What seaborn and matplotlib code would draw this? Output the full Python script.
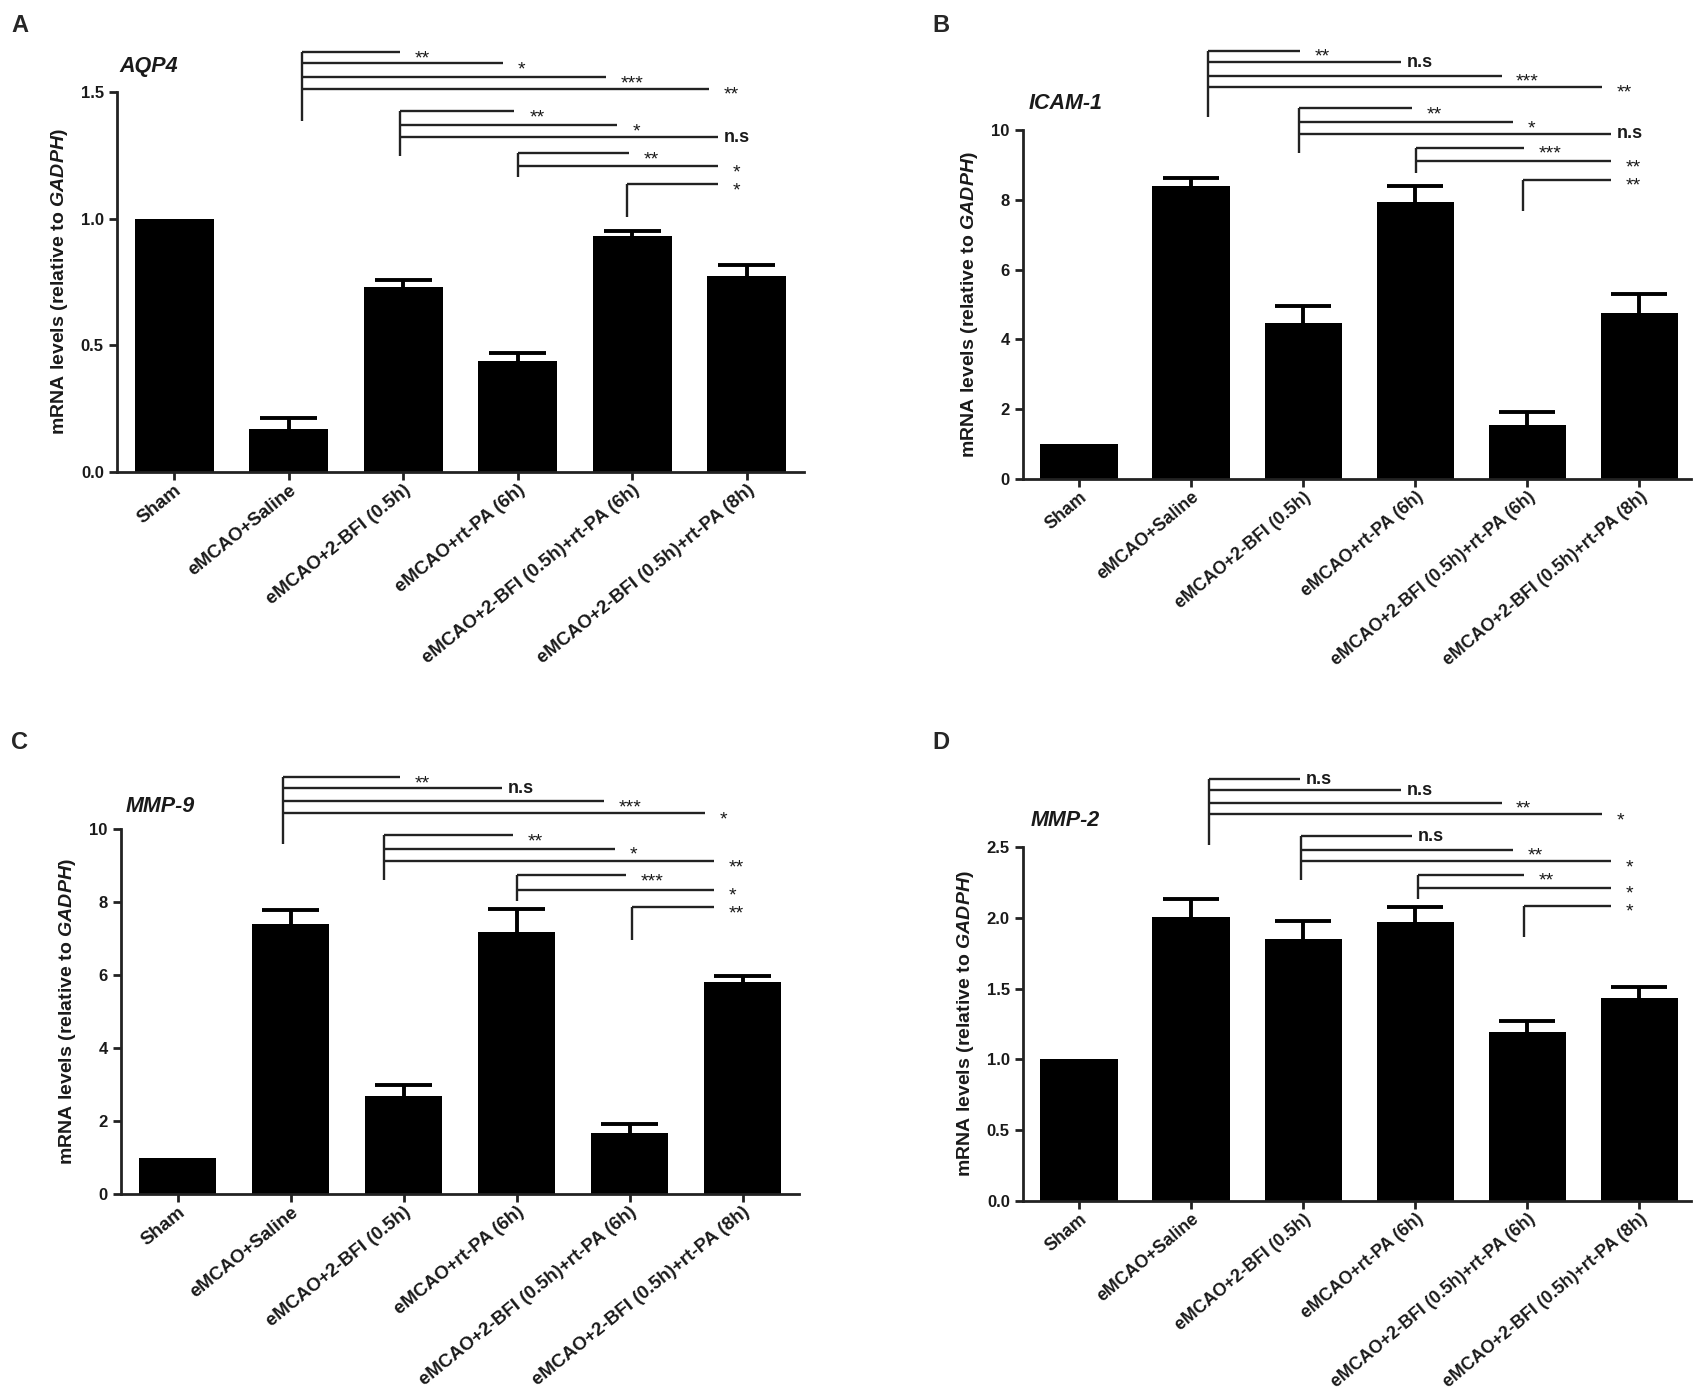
import numpy as np
import pandas as pd
import seaborn as sns
import matplotlib.pyplot as plt
from matplotlib import transforms

# ---------------- data ----------------
groups = ["Sham", "eMCAO+Saline", "eMCAO+2-BFI (0.5h)", "eMCAO+rt-PA (6h)",
          "eMCAO+2-BFI (0.5h)+rt-PA (6h)", "eMCAO+2-BFI (0.5h)+rt-PA (8h)"]

aqp4_mean = [1.00, 0.17, 0.73, 0.44, 0.93, 0.775]
aqp4_err = [0.0, 0.045, 0.026, 0.028, 0.022, 0.041]

icam1_mean = [1.0, 8.40, 4.48, 7.95, 1.55, 4.75]
icam1_err = [0.0, 0.22, 0.48, 0.45, 0.36, 0.55]

mmp9_mean = [1.0, 7.41, 2.68, 7.19, 1.67, 5.80]
mmp9_err = [0.0, 0.38, 0.30, 0.62, 0.26, 0.16]

mmp2_mean = [1.0, 2.005, 1.853, 1.968, 1.195, 1.435]
mmp2_err = [0.0, 0.13, 0.123, 0.109, 0.075, 0.077]

# significance labels: group k compares bar (k+1) with each later bar
aqp4_sig = [["**", "*", "***", "**"], ["**", "*", "n.s"], ["**", "*"], ["*"]]
icam1_sig = [["**", "n.s", "***", "**"], ["**", "*", "n.s"], ["***", "**"], ["**"]]
mmp9_sig = [["**", "n.s", "***", "*"], ["**", "*", "**"], ["***", "*"], ["**"]]
mmp2_sig = [["n.s", "n.s", "**", "*"], ["n.s", "**", "*"], ["**", "*"], ["*"]]

yticks_a = [0.0, 0.5, 1.0, 1.5]
yticks_b = [0, 2, 4, 6, 8, 10]
yticks_c = [0, 2, 4, 6, 8, 10]
yticks_d = [0.0, 0.5, 1.0, 1.5, 2.0, 2.5]

# ---------------- layout ----------------
W, H = 1695, 1393
panels = [
    dict(letter="A", gene="AQP4", mean=aqp4_mean, err=aqp4_err, sig=aqp4_sig,
         yticks=yticks_a, fmt="{:.1f}", rect=(117, 92, 804, 472), xmax=5.5,
         letter_xy=(11, 14), title_y=1.066, title_x=0.004, xfs=13.5, rot=39,
         lines=[[1.105, 1.076, 1.039, 1.009], [0.949, 0.912, 0.881], [0.839, 0.805], [0.757]],
         bottoms=[0.925, 0.831, 0.776, 0.671], xoff=[0.12, -0.03, 0.0, -0.05]),
    dict(letter="B", gene="ICAM-1", mean=icam1_mean, err=icam1_err, sig=icam1_sig,
         yticks=yticks_b, fmt="{:d}", rect=(1023, 130, 1691, 479), xmax=5.46,
         letter_xy=(932, 14), title_y=1.077, title_x=0.009, xfs=12.8, rot=40,
         lines=[[1.226, 1.194, 1.155, 1.124], [1.062, 1.022, 0.989], [0.948, 0.910], [0.857]],
         bottoms=[1.038, 0.935, 0.878, 0.768], xoff=[0.15, -0.04, 0.01, -0.04]),
    dict(letter="C", gene="MMP-9", mean=mmp9_mean, err=mmp9_err, sig=mmp9_sig,
         yticks=yticks_c, fmt="{:d}", rect=(121, 829, 799, 1194), xmax=5.5,
         letter_xy=(11, 731), title_y=1.063, title_x=0.007, xfs=13.5, rot=39,
         lines=[[1.142, 1.112, 1.076, 1.044], [0.983, 0.946, 0.911], [0.873, 0.834], [0.785]],
         bottoms=[0.959, 0.859, 0.804, 0.697], xoff=[-0.07, -0.17, 0.0, 0.02]),
    dict(letter="D", gene="MMP-2", mean=mmp2_mean, err=mmp2_err, sig=mmp2_sig,
         yticks=yticks_d, fmt="{:.1f}", rect=(1023, 847, 1691, 1201), xmax=5.46,
         letter_xy=(932, 731), title_y=1.076, title_x=0.012, xfs=12.8, rot=40,
         lines=[[1.191, 1.160, 1.125, 1.092], [1.030, 0.992, 0.960], [0.922, 0.884], [0.834]],
         bottoms=[1.006, 0.908, 0.854, 0.746], xoff=[0.16, -0.02, 0.02, -0.03]),
]

sns.set_style("ticks")
plt.rcParams["font.family"] = ["Liberation Sans", "DejaVu Sans"]
plt.rcParams["mathtext.fontset"] = "custom"
plt.rcParams["mathtext.rm"] = "Liberation Sans:bold"
plt.rcParams["mathtext.it"] = "Liberation Sans:italic:bold"
plt.rcParams["mathtext.bf"] = "Liberation Sans:bold"

fig = plt.figure(figsize=(W / 100, H / 100), dpi=100)

line_col = "#222222"
txt_col = "#1a1a1a"

for p in panels:
    l, t, r, b = p["rect"]
    ax = fig.add_axes([l / W, 1 - b / H, (r - l) / W, (b - t) / H])
    df = pd.DataFrame({"group": groups, "value": p["mean"]})
    sns.barplot(data=df, x="group", y="value", color="black", saturation=1,
                width=0.69, errorbar=None, ax=ax, zorder=2,
                edgecolor="black", linewidth=0)
    x = np.arange(len(groups))
    mean = np.array(p["mean"])
    err = np.array(p["err"])
    has = err > 0
    ax.vlines(x[has], mean[has], mean[has] + err[has], color="black",
              lw=2.8, zorder=3)
    ax.hlines(mean[has] + err[has], x[has] - 0.25, x[has] + 0.25, color="black",
              lw=2.8, zorder=3)
    ax.set_xlim(-0.5, p["xmax"])
    ax.set_ylim(p["yticks"][0], p["yticks"][-1])
    ax.set_yticks(p["yticks"])
    ax.set_yticklabels([p["fmt"].format(v) for v in p["yticks"]],
                       fontsize=12, fontweight="bold", color=txt_col)
    ax.set_xticks(x)
    ax.set_xticklabels(groups, rotation=p["rot"], ha="right", rotation_mode="anchor",
                       fontsize=p["xfs"], fontweight="bold", color=txt_col)
    ax.set_xlabel("")
    ax.set_ylabel(r"mRNA levels (relative to $\mathit{GADPH}$)", fontsize=14,
                  fontweight="bold", labelpad=8, color=txt_col)
    for s in ["top", "right"]:
        ax.spines[s].set_visible(False)
    for s in ["left", "bottom"]:
        ax.spines[s].set_linewidth(2)
        ax.spines[s].set_color("#222222")
    ax.tick_params(axis="both", direction="out", length=6, width=2, color="#222222")
    ax.tick_params(axis="x", pad=1)

    ax.text(p["title_x"], p["title_y"], p["gene"], transform=ax.transAxes,
            fontsize=15.5, fontweight="bold", fontstyle="italic", va="center",
            ha="left", color=txt_col)

    # significance brackets
    trans = transforms.blended_transform_factory(ax.transData, ax.transAxes)
    for k, labels in enumerate(p["sig"]):
        src = k + 1
        xs = src + p["xoff"][k]
        levels = p["lines"][k]
        ax.plot([xs, xs], [p["bottoms"][k], levels[0]], transform=trans,
                color=line_col, lw=1.7, clip_on=False, solid_capstyle="butt")
        for j, lab in enumerate(labels):
            tgt = src + 1 + j
            xe = min(tgt - 0.03 - 0.1 * (tgt - src - 1), 4.75)
            yl = levels[j]
            ax.plot([xs, xe], [yl, yl], transform=trans, color=line_col, lw=1.7,
                    clip_on=False, solid_capstyle="butt")
            if lab == "n.s":
                ax.text(xe + 0.05, yl, lab, transform=trans, fontsize=13,
                        fontweight="bold", va="center", ha="left", color=txt_col)
            else:
                ax.text(xe + 0.13, yl - 0.018, lab, transform=trans, fontsize=14,
                        va="center", ha="left", color=txt_col)

    fig.text(p["letter_xy"][0] / W, 1 - p["letter_xy"][1] / H, p["letter"],
             fontsize=17, fontweight="bold", va="top", ha="left")

fig.savefig("out.png", dpi=100, facecolor="white")
